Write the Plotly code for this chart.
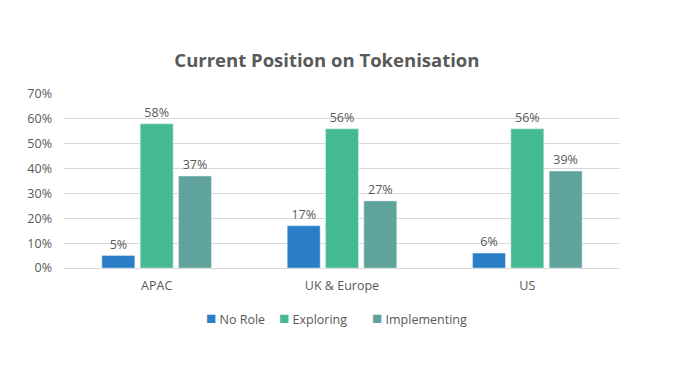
import plotly.graph_objects as go

categories = ["APAC", "UK & Europe", "US"]
no_role = [5, 17, 6]
exploring = [58, 56, 56]
implementing = [37, 27, 39]
tick_vals = [0, 10, 20, 30, 40, 50, 60, 70]
tick_text = ["0%", "10%", "20%", "30%", "40%", "50%", "60%", "70%"]

series = [
    ("No Role", no_role, "#2A7EC8"),
    ("Exploring", exploring, "#44BA93"),
    ("Implementing", implementing, "#5FA39C"),
]
legend_x = [0.251, 0.383, 0.551]

fig = go.Figure()
for name, vals, col in series:
    fig.add_trace(go.Bar(
        x=categories, y=vals, name=name, marker_color=col,
        text=[f"{v}%" for v in vals], textposition="outside",
        textfont=dict(size=12.5, color="#595959"), cliponaxis=False,
    ))

annotations = []
for (name, vals, col), lx in zip(series, legend_x):
    annotations.append(dict(
        text=f'<span style="color:{col};font-size:17px">■</span> {name}',
        x=lx, y=-0.287, xref="paper", yref="paper", xanchor="left", yanchor="middle",
        showarrow=False, font=dict(size=12.5, color="#595959"),
    ))

fig.update_layout(
    width=680, height=383,
    margin=dict(l=56, r=68, t=86, b=123, autoexpand=False),
    paper_bgcolor="white", plot_bgcolor="white",
    font=dict(family="Open Sans, sans-serif", color="#595959", size=12.5),
    title=dict(text="<b>Current Position on Tokenisation</b>", x=0.469, xanchor="center",
               y=0.864, yanchor="middle", font=dict(size=18.5, color="#595959")),
    barmode="group", bargap=0.38, bargroupgap=0.14,
    showlegend=False,
    annotations=annotations,
    xaxis=dict(showline=True, linecolor="#D9D9D9", tickfont=dict(size=12.5, color="#595959"),
               ticks="", ticklabelstandoff=6),
    yaxis=dict(range=[0, 70], tickvals=tick_vals, ticktext=tick_text,
               showgrid=True, gridcolor="#D9D9D9", zeroline=False,
               tickfont=dict(size=12.5, color="#595959"), ticklabelstandoff=11),
)

fig.write_html("out.html")
